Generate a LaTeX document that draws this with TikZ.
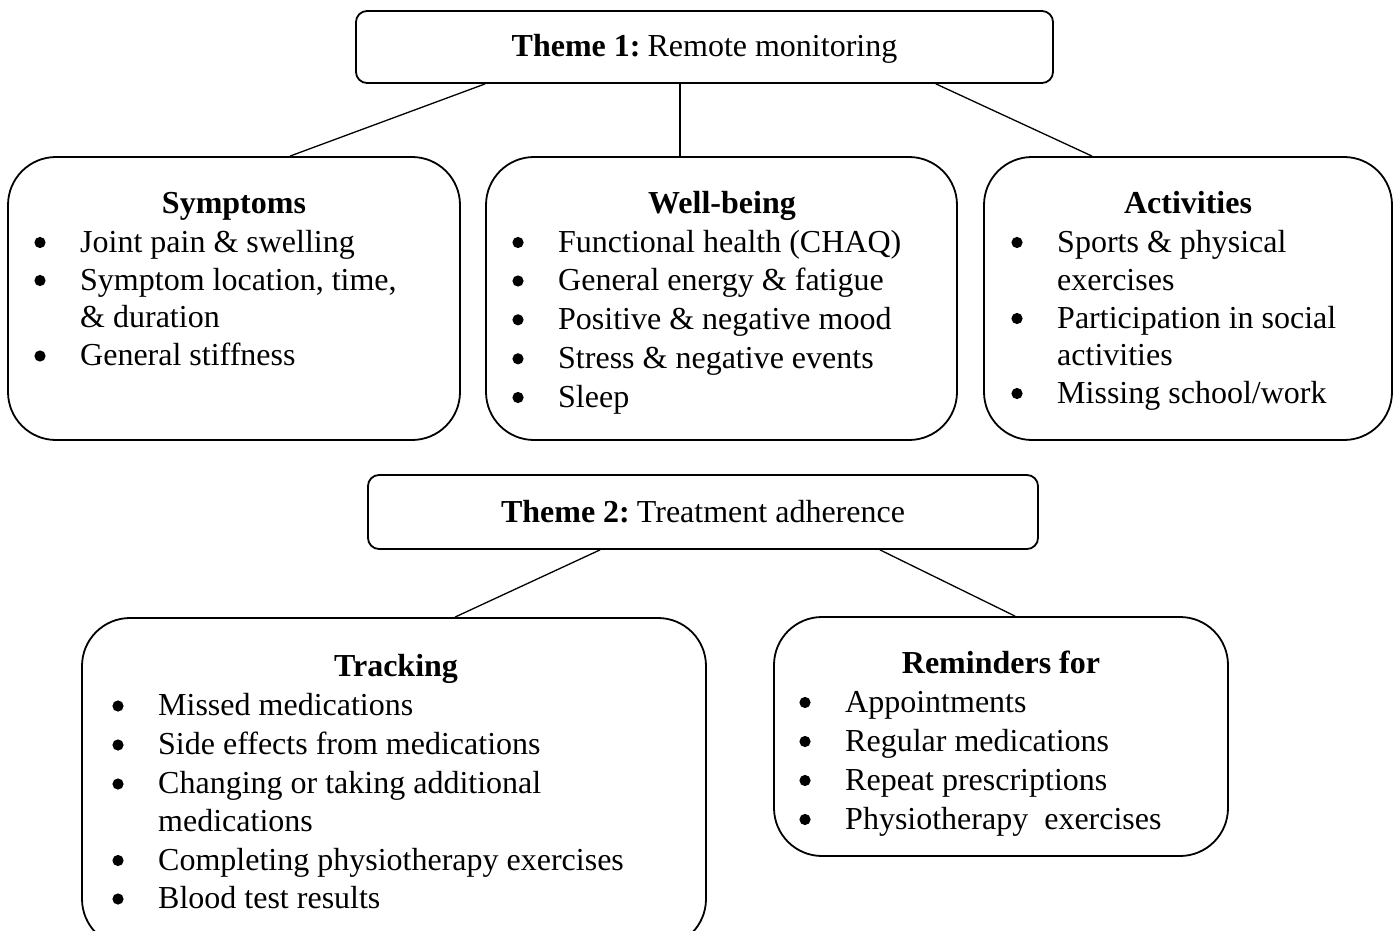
\documentclass[tikz,border=0pt]{standalone}
\usepackage{fontspec}
\setmainfont{Liberation Serif}
\tikzset{
  card/.style={draw, line width=1.8pt, rounded corners=48pt, inner sep=0pt},
  theme/.style={draw, line width=1.8pt, rounded corners=11pt, inner sep=0pt},
  conn/.style={line width=1.3pt},
  dot/.style={fill=black},
  itm/.style={anchor=base west, inner sep=0pt, yshift=-2pt, font=\fontsize{32}{38}\selectfont},
  ttl/.style={anchor=base, inner sep=0pt, yshift=-2pt, font=\fontsize{32}{38}\selectfont\bfseries},
  thm/.style={anchor=base, inner sep=0pt, yshift=-2pt, font=\fontsize{32}{38}\selectfont},
}
\newcommand\bl[4]{\node[itm] (#1) at (#2,#3) {#4};
  \fill[dot] ([xshift=-40pt,yshift=9.5pt]#1.base west) circle (5.6pt);}
\newcommand\cl[4]{\node[itm] (#1) at (#2,#3) {#4};}
\begin{document}
\begin{tikzpicture}[x=1pt,y=-1pt]
\clip (0,0) rectangle (1398,931);
\fill[white] (0,0) rectangle (1398,931);

% Theme 1
\node[theme, minimum width=697pt, minimum height=72pt] (t1) at (704.5,47) {};
\node[thm] (t1txt) at (704.5,55) {\textbf{Theme 1:}\hspace{0.22em}Remote monitoring};

% Boxes row 1
\node[card, minimum width=452pt, minimum height=283pt] (sym) at (234,298.5) {};
\node[card, minimum width=471pt, minimum height=283pt] (wb) at (721.5,298.5) {};
\node[card, minimum width=408pt, minimum height=283pt] (act) at (1188,298.5) {};

\draw[conn] ([xshift=130pt]t1.south west) -- ([xshift=56pt]sym.north);
\draw[conn] ([xshift=-24.5pt]t1.south) -- ([xshift=-41.5pt]wb.north);
\draw[conn] ([xshift=-118pt]t1.south east) -- ([xshift=-96pt]act.north);

% Symptoms
\node[ttl] (symT) at (234,211.7) {Symptoms};
\bl{s1}{80}{250}{Joint pain \& swelling}
\bl{s2}{80}{288}{Symptom location, time,}
\cl{s2b}{80}{325.5}{\& duration}
\bl{s3}{80}{363.5}{General stiffness}

% Well-being
\node[ttl] (wbT) at (722,211.7) {Well-being};
\bl{w1}{558}{250}{Functional health (CHAQ)}
\bl{w2}{558}{288.5}{General energy \& fatigue}
\bl{w3}{558}{327.3}{Positive \& negative mood}
\bl{w4}{558}{366.3}{Stress \& negative events}
\bl{w5}{558}{405}{Sleep}

% Activities
\node[ttl] (actT) at (1188,211.7) {Activities};
\bl{a1}{1057}{250}{Sports \& physical}
\cl{a1b}{1057}{288}{exercises}
\bl{a2}{1057}{326}{Participation in social}
\cl{a2b}{1057}{363.5}{activities}
\bl{a3}{1057}{401}{Missing school/work}

% Theme 2
\node[theme, minimum width=670pt, minimum height=74pt] (t2) at (703,512) {};
\node[thm] (t2txt) at (703,520) {\textbf{Theme 2:}\hspace{0.22em}Treatment adherence};

% Boxes row 2
\node[card, minimum width=624pt, minimum height=329pt] (trk) at (394,782.5) {};
\node[card, minimum width=454pt, minimum height=239pt] (rem) at (1001,736.5) {};

\draw[conn] ([xshift=-103pt]t2.south) -- ([xshift=61pt]trk.north);
\draw[conn] ([xshift=177pt]t2.south) -- ([xshift=14pt]rem.north);

% Tracking
\node[ttl] (trkT) at (396,674) {Tracking};
\bl{k1}{158}{713.5}{Missed medications}
\bl{k2}{158}{752.5}{Side effects from medications}
\bl{k3}{158}{791.5}{Changing or taking additional}
\cl{k3b}{158}{829}{medications}
\bl{k4}{158}{868}{Completing physiotherapy exercises}
\bl{k5}{158}{906.5}{Blood test results}

% Reminders
\node[ttl] (remT) at (1001,671.5) {Reminders for};
\bl{r1}{845}{710}{Appointments}
\bl{r2}{845}{749}{Regular medications}
\bl{r3}{845}{788}{Repeat prescriptions}
\bl{r4}{845}{827}{Physiotherapy~~exercises}
\end{tikzpicture}
\end{document}
